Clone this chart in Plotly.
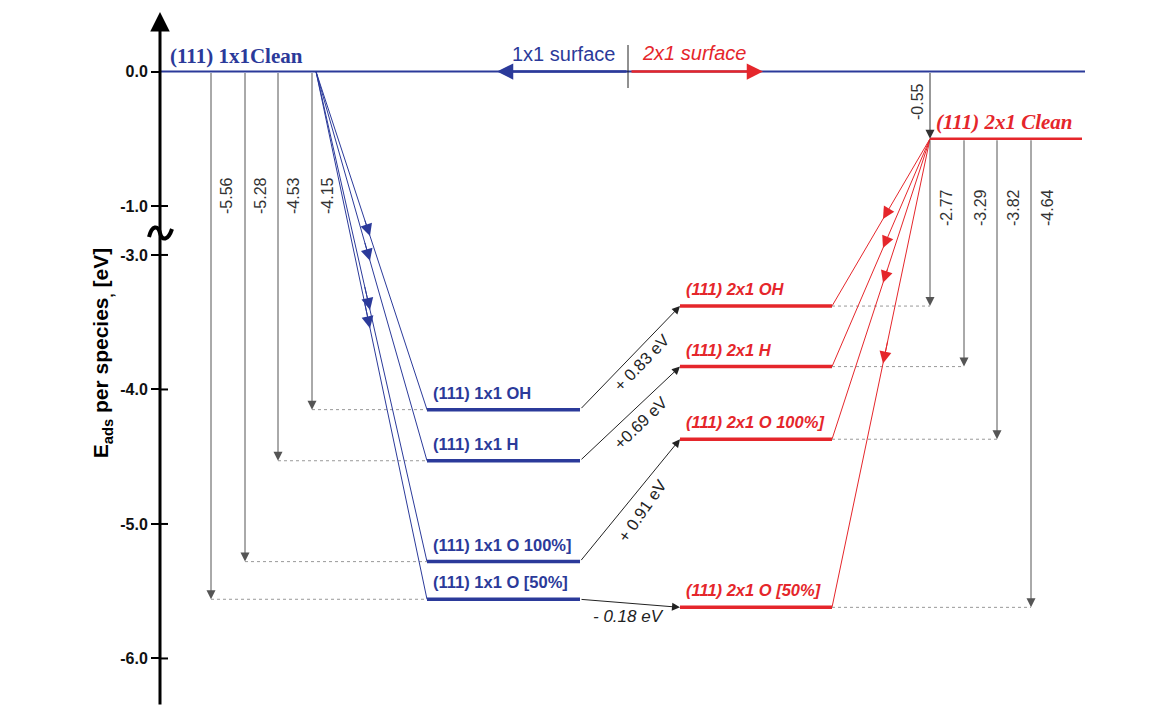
import plotly.graph_objects as go

# ---------------- data ----------------
labels_1x1 = ["(111) 1x1 OH", "(111) 1x1 H", "(111) 1x1 O 100%]", "(111) 1x1 O [50%]"]
labels_2x1 = ["(111) 2x1 OH", "(111) 2x1 H", "(111) 2x1 O 100%]", "(111) 2x1 O [50%]"]
E_1x1 = [-4.15, -4.53, -5.28, -5.56]
E_2x1 = [-3.38, -3.83, -4.37, -5.62]
E_clean_1x1 = 0.0
E_clean_2x1 = -0.50
ads_1x1_text = ["-4.15", "-4.53", "-5.28", "-5.56"]
ads_2x1_text = ["-2.77", "-3.29", "-3.82", "-4.64"]
reconstruction_text = "-0.55"
shift_text = ["+ 0.83 eV", "+0.69 eV", "+ 0.91 eV", "- 0.18 eV"]
tick_values = [0.0, -1.0, -3.0, -4.0, -5.0, -6.0]
tick_labels = ["0.0", "-1.0", "-3.0", "-4.0", "-5.0", "-6.0"]

# ---------------- layout / styling ----------------
W, H = 1162, 706
BLUE = "#2b3a9a"
RED = "#e5262b"
GREY = "#555555"
SANS = "Liberation Sans, Arial, sans-serif"
SERIF = "Liberation Serif, Times New Roman, serif"

PXU = 134.5      # pixels per eV
Y0PX = 71.5      # pixel row of 0 eV
BREAK_SHIFT = 1.636  # compression of the broken axis (-1 .. -3 eV)


def m(E):
    """map an energy onto the broken axis"""
    return E if E > -2 else E + BREAK_SHIFT


def px2m(py):
    return -(py - Y0PX) / PXU


AXIS_X = 160
CLEAN1_X1 = 1085
FAN1_X = 316
L1_X0, L1_X1 = 427, 580
L2_X0, L2_X1 = 680, 832
CLEAN2_X0, CLEAN2_X1 = 930, 1082
ADS1_X = [312, 278, 245, 211]
ADS2_X = [930, 964, 997, 1031]
FAN1_HEAD_X = 370
FAN2_HEAD_X = 883

fig = go.Figure()
ann = []
shapes = []


def line(xs, ys, color, width, dash="solid"):
    fig.add_trace(go.Scatter(x=xs, y=ys, mode="lines", hoverinfo="skip", showlegend=False,
                             line=dict(color=color, width=width, dash=dash)))


def arrow(x, y, ax, ay, color, width=1, size=1.8, head=2):
    ann.append(dict(x=x, y=y, ax=ax, ay=ay, xref="x", yref="y", axref="x", ayref="y",
                    text="", showarrow=True, arrowhead=head, arrowsize=size,
                    arrowwidth=width, arrowcolor=color, standoff=0, startstandoff=0))


def text(x, y, s, color, size, family=SANS, xanchor="center", angle=0, xshift=0, yshift=0,
         bold=False, italic=False):
    ann.append(dict(x=x, y=y, xref="x", yref="y", text=s, showarrow=False, xanchor=xanchor,
                    yanchor="middle", textangle=angle, xshift=xshift, yshift=yshift,
                    font=dict(family=family, size=size, color=color,
                              weight="bold" if bold else "normal",
                              style="italic" if italic else "normal")))


# clean 1x1 line
y0 = m(E_clean_1x1)
line([AXIS_X, CLEAN1_X1], [y0, y0], BLUE, 2)
text(168, y0, "(111) 1x1Clean", BLUE, 21, family=SERIF, xanchor="left", yshift=16, bold=True)

# surface arrows
arrow(497, y0, 628, y0, BLUE, width=2.5, size=1.3)
arrow(763, y0, 630, y0, RED, width=2.5, size=1.3)
line([628, 628], [px2m(45), px2m(88)], "#222222", 1)
text(617, y0, "1x1 surface", BLUE, 20, xanchor="right", yshift=18)
text(640, y0, "2x1 surface", RED, 20, xanchor="left", yshift=19, italic=True)

# clean 2x1
yc2 = m(E_clean_2x1)
line([CLEAN2_X0, CLEAN2_X1], [yc2, yc2], RED, 2.5)
text(934, yc2, "(111) 2x1 Clean", RED, 21, family=SERIF, xanchor="left", yshift=17,
     bold=True, italic=True)
arrow(CLEAN2_X0, yc2, CLEAN2_X0, y0, "#333333", size=1.8)
text(CLEAN2_X0, px2m(102), reconstruction_text, "#333333", 16, angle=-90, xshift=-13)

for i in range(4):
    y1 = m(E_1x1[i])
    y2 = m(E_2x1[i])
    # levels
    line([L1_X0, L1_X1], [y1, y1], BLUE, 3.5)
    line([L2_X0, L2_X1], [y2, y2], RED, 3.5)
    text(L1_X0 + 4, y1, labels_1x1[i], BLUE, 16.5, xanchor="left", yshift=17, bold=True)
    text(L2_X0 + 4, y2, labels_2x1[i], RED, 16.5, xanchor="left", yshift=17, bold=True, italic=True)

    # fan from clean 1x1
    line([FAN1_X, L1_X0], [y0, y1], BLUE, 1)
    t = (FAN1_HEAD_X - FAN1_X) / (L1_X0 - FAN1_X)
    t0 = t - 0.05
    arrow(FAN1_X + t * (L1_X0 - FAN1_X), y0 + t * (y1 - y0),
          FAN1_X + t0 * (L1_X0 - FAN1_X), y0 + t0 * (y1 - y0), BLUE, size=2.4)

    # fan from clean 2x1
    line([CLEAN2_X0, L2_X1], [yc2, y2], RED, 1)
    t = (CLEAN2_X0 - FAN2_HEAD_X) / (CLEAN2_X0 - L2_X1)
    t0 = t - 0.05
    arrow(CLEAN2_X0 + t * (L2_X1 - CLEAN2_X0), yc2 + t * (y2 - yc2),
          CLEAN2_X0 + t0 * (L2_X1 - CLEAN2_X0), yc2 + t0 * (y2 - yc2), RED, size=2.4)

    # adsorption energy arrows (1x1)
    arrow(ADS1_X[i], y1, ADS1_X[i], y0, GREY, size=1.8)
    line([ADS1_X[i], L1_X0], [y1, y1], "#999999", 1, "dot")
    text(ADS1_X[i], px2m(196), ads_1x1_text[i], "#333333", 16, angle=-90, xshift=15)

    # adsorption energy arrows (2x1)
    arrow(ADS2_X[i], y2, ADS2_X[i], yc2, GREY, size=1.8)
    line([L2_X1, ADS2_X[i]], [y2, y2], "#999999", 1, "dot")
    text(ADS2_X[i], px2m(208), ads_2x1_text[i], "#333333", 16, angle=-90, xshift=16)

    # transition 1x1 -> 2x1
    arrow(L2_X0, y2, L1_X1, y1, "#222222", size=1.6)

# transition labels
shift_angle = [-46, -44, -55, 0]
shift_dx = [11, 10, 12, -2]
shift_dy = [-5, -9, -11, -13]
for i in range(4):
    xm = (L1_X1 + L2_X0) / 2
    ym = (m(E_1x1[i]) + m(E_2x1[i])) / 2
    text(xm, ym, shift_text[i], "#222222", 16.5 if i < 3 else 17, angle=shift_angle[i],
         xshift=shift_dx[i], yshift=shift_dy[i], italic=(i == 3))

# y axis line with arrow and break mark
arrow(AXIS_X, px2m(12), AXIS_X, px2m(H), "#000000", width=3, size=1.3)
sq = (f"M 149,{px2m(237)} C 152,{px2m(225)} 158,{px2m(225)} 160,{px2m(233)} "
      f"C 162,{px2m(241)} 168,{px2m(241)} 172,{px2m(229)}")
shapes.append(dict(type="path", path=sq, xref="x", yref="y", line=dict(color="#000000", width=4)))
for v in tick_values[1:]:
    shapes.append(dict(type="line", x0=AXIS_X, x1=AXIS_X + 8, y0=m(v), y1=m(v), xref="x", yref="y",
                       line=dict(color="#000000", width=2)))

fig.update_layout(
    template="none",
    width=W, height=H,
    margin=dict(l=0, r=0, t=0, b=0),
    paper_bgcolor="white", plot_bgcolor="white",
    showlegend=False,
    annotations=ann, shapes=shapes,
    xaxis=dict(range=[0, W], visible=False, fixedrange=True),
    yaxis=dict(range=[px2m(H), px2m(0)], anchor="free", position=AXIS_X / W,
               tickvals=[m(v) for v in tick_values], ticktext=tick_labels,
               ticks="outside", ticklen=9, tickwidth=2, tickcolor="#000000",
               tickfont=dict(family=SANS, size=16, color="#111111", weight="bold"),
               showgrid=False, zeroline=False, showline=False, fixedrange=True,
               title=dict(text="E<sub>ads</sub> per species<sub>,</sub> [eV]",
                          font=dict(family=SANS, size=21, color="#000000", weight="bold"),
                          standoff=4)),
)

fig.write_html("out.html", post_script="document.body.style.margin='0';",
               config={"displayModeBar": False})
